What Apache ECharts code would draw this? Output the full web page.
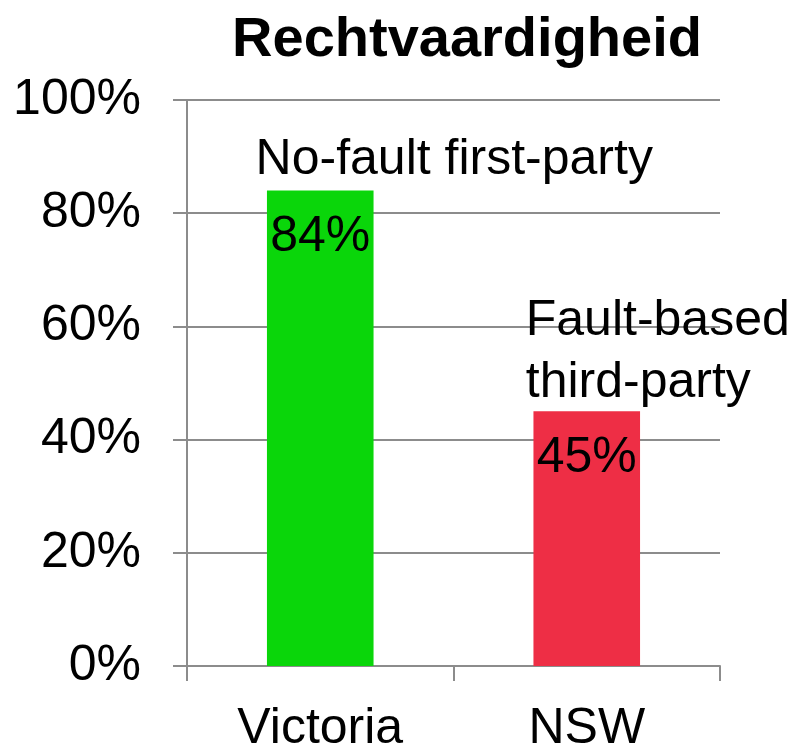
<!DOCTYPE html>
<html lang="nl">
<head>
  <meta charset="UTF-8" />
  <title>Rechtvaardigheid</title>
  <style>
    * { margin: 0; padding: 0; }
    html, body { width: 100%; height: 100%; background: #fff; }
    #chart { width: 796px; height: 749px; }
  </style>
</head>
<body>
  <div id="chart"></div>
  <script src="https://cdn.jsdelivr.net/npm/echarts@6/dist/echarts.min.js"></script>
  <script>
    // data
    var categories = ['Victoria', 'NSW'];
    var values = [84, 45];
    var barColors = ['#0ad60a', '#ee2e45'];
    var schemeNames = ['No-fault first-party', 'Fault-based\nthird-party'];
    var yTicks = [0, 20, 40, 60, 80, 100];

    var font = 'Liberation Sans, Arial, sans-serif';
    var chart = echarts.init(document.getElementById('chart'));

    var option = {
      animation: false,
      title: {
        text: 'Rechtvaardigheid',
        left: 462,
        textAlign: 'center',
        top: 8,
        textStyle: { fontFamily: font, fontSize: 56, fontWeight: 'bold', color: '#000' }
      },
      grid: { left: 187, right: 76, top: 100, bottom: 83, outerBoundsMode: 'none' },
      xAxis: {
        type: 'category',
        data: categories,
        axisLine: { lineStyle: { color: '#8c8c8c', width: 2 } },
        axisTick: { show: true, length: 15, lineStyle: { color: '#8c8c8c', width: 2 } },
        axisLabel: { fontFamily: font, fontSize: 50, color: '#000', margin: 38 }
      },
      yAxis: {
        type: 'value',
        min: yTicks[0],
        max: yTicks[yTicks.length - 1],
        interval: 20,
        axisLine: { show: true, lineStyle: { color: '#8c8c8c', width: 2 } },
        axisTick: { show: true, length: 14, lineStyle: { color: '#8c8c8c', width: 2 } },
        splitLine: { lineStyle: { color: '#8c8c8c', width: 2 } },
        axisLabel: { fontFamily: font, fontSize: 50, color: '#000', margin: 46, formatter: '{value}%' }
      },
      series: [
        {
          type: 'bar',
          barWidth: '40%',
          data: values.map(function (v, i) {
            return { value: v, itemStyle: { color: barColors[i] } };
          }),
          label: {
            show: true,
            position: 'insideTop',
            distance: 22,
            formatter: '{c}%',
            fontFamily: font,
            fontSize: 50,
            color: '#000'
          }
        },
        {
          // overlay carrying the scheme names
          type: 'bar',
          barWidth: '40%',
          barGap: '-100%',
          silent: true,
          itemStyle: { color: 'rgba(0,0,0,0)' },
          data: values.map(function (v, i) {
            var lab = i === 0
              ? { offset: [134, 0], align: 'center' }
              : { offset: [-61, 8], align: 'left', lineHeight: 62 };
            return { value: v, label: lab };
          }),
          label: {
            show: true,
            position: 'top',
            formatter: function (p) { return schemeNames[p.dataIndex]; },
            fontFamily: font,
            fontSize: 50,
            color: '#000'
          }
        }
      ]
    };
    chart.setOption(option);
  </script>
</body>
</html>
